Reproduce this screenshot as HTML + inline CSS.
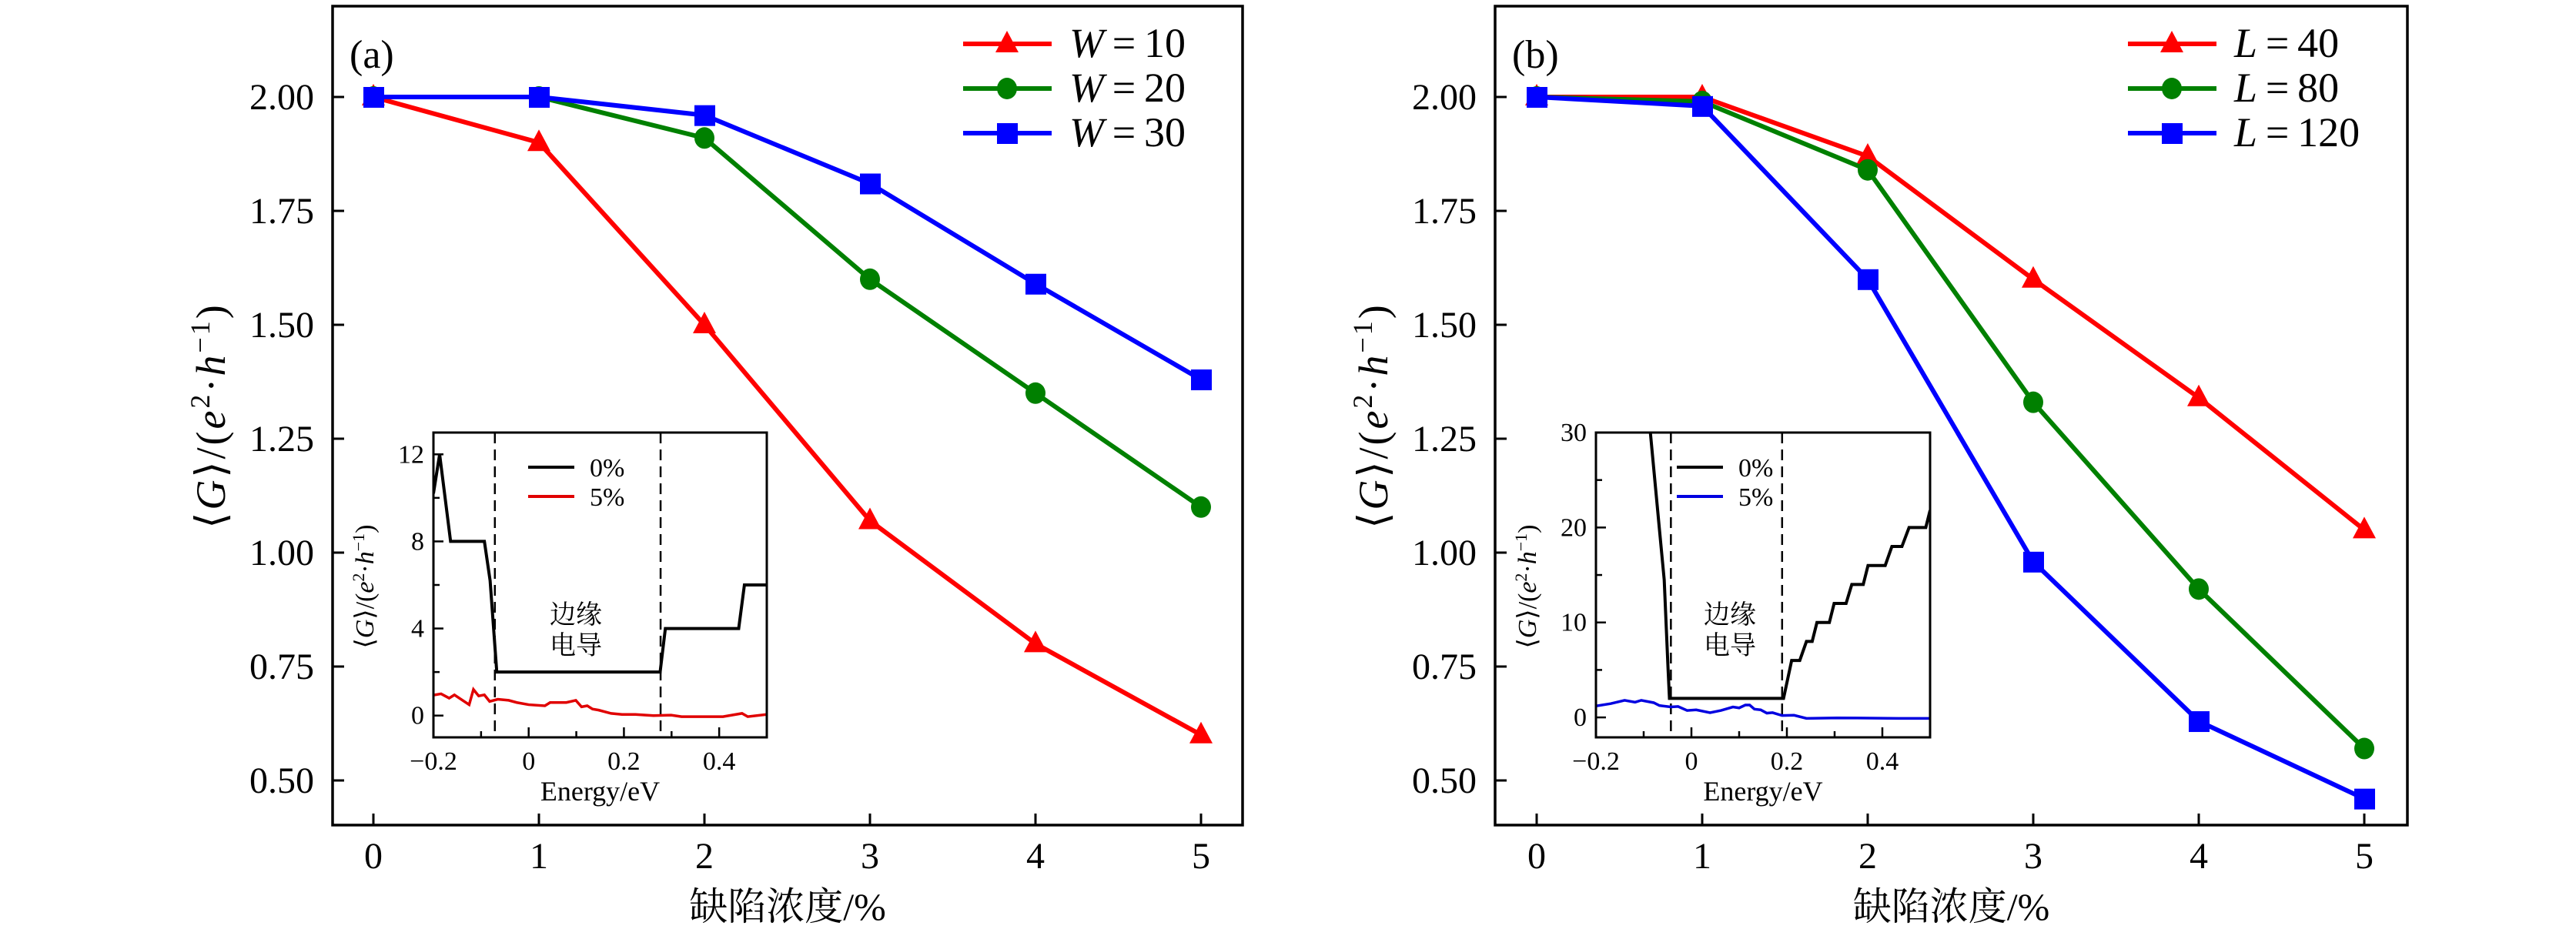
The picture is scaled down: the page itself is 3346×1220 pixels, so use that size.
<!DOCTYPE html>
<html><head><meta charset="utf-8">
<style>
html,body{margin:0;padding:0;background:#fff;}
svg{display:block;font-family:"Liberation Serif","Noto Serif CJK SC",serif;}
</style></head>
<body>
<svg id="fig" width="3346" height="1220" viewBox="0 0 3346 1220" xmlns="http://www.w3.org/2000/svg"></svg>
<script>
// ---------- data ----------
const defectLevels = [0, 1, 2, 3, 4, 5];
const xTickLabels = ["0","1","2","3","4","5"];
const yTickValues = [0.5, 0.75, 1.0, 1.25, 1.5, 1.75, 2.0];
const yTickLabels = ["0.50","0.75","1.00","1.25","1.50","1.75","2.00"];
const seriesW10 = [2.00, 1.90, 1.50, 1.07, 0.80, 0.60];
const seriesW20 = [2.00, 2.00, 1.91, 1.60, 1.35, 1.10];
const seriesW30 = [2.00, 2.00, 1.96, 1.81, 1.59, 1.38];
const seriesL40 = [2.00, 2.00, 1.87, 1.60, 1.34, 1.05];
const seriesL80 = [2.00, 1.99, 1.84, 1.33, 0.92, 0.57];
const seriesL120 = [2.00, 1.98, 1.60, 0.98, 0.63, 0.46];
// inset (a)
const insetAEnergy0 = [-0.2, -0.187, -0.164, -0.093, -0.081, -0.067, 0.276, 0.287, 0.441, 0.453, 0.5];
const insetAG0 = [10.2, 12, 8, 8, 6.2, 2, 2, 4, 4, 6, 6];
const insetAEnergy5 = [-0.2,-0.184,-0.167,-0.156,-0.125,-0.116,-0.105,-0.093,-0.082,-0.065,-0.042,-0.025,0,0.034,0.045,0.079,0.099,0.111,0.123,0.134,0.147,0.173,0.196,0.224,0.262,0.299,0.321,0.334,0.369,0.408,0.448,0.46,0.5];
const insetAG5 = [0.94,1.0,0.8,0.95,0.5,1.2,0.9,0.95,0.65,0.75,0.7,0.6,0.5,0.45,0.6,0.6,0.7,0.4,0.45,0.3,0.25,0.1,0.05,0.05,0.0,0.02,-0.05,-0.05,-0.05,-0.05,0.1,-0.05,0.05];
const insetAYTicks = [0,4,8,12];
const insetAYLabels = ["0","4","8","12"];
// inset (b)
const insetBEnergy0 = [-0.086,-0.067,-0.057,-0.049,-0.046,0.193,0.210,0.227,0.241,0.253,0.263,0.289,0.299,0.324,0.336,0.360,0.370,0.406,0.420,0.441,0.456,0.491,0.5];
const insetBG0 = [30,19.8,14.5,5.2,2,2,6,6,8,8,10,10,12,12,14,14,16,16,18,18,20,20,21.8];
const insetBEnergy5 = [-0.2,-0.169,-0.14,-0.118,-0.105,-0.079,-0.067,-0.043,-0.028,-0.009,0.01,0.039,0.062,0.087,0.1,0.113,0.122,0.132,0.145,0.158,0.17,0.19,0.215,0.241,0.305,0.433,0.5];
const insetBG5 = [1.2,1.45,1.8,1.6,1.8,1.55,1.25,1.1,1.15,0.73,0.8,0.5,0.73,1.1,1.0,1.3,1.3,0.87,0.8,0.45,0.5,0.2,0.23,-0.1,-0.05,-0.1,-0.1];
const insetBYTicks = [0,10,20,30];
const insetBYLabels = ["0","10","20","30"];
const insetXTicks = [-0.2, 0, 0.2, 0.4];
const insetXLabels = ["\u22120.2","0","0.2","0.4"];

const NS = "http://www.w3.org/2000/svg";
const fig = document.getElementById('fig');
function mk(tag, attrs, parent){
  const e = document.createElementNS(NS, tag);
  for (const k in attrs) e.setAttribute(k, attrs[k]);
  (parent||fig).appendChild(e);
  return e;
}
function lin(d0,d1,p0,p1){ return v => p0 + (v-d0)*(p1-p0)/(d1-d0); }

function drawMain(P){
  const g = mk('g',{});
  
  
  const X = lin(0,5,P.x0,P.x0+5*215);
  const Y = lin(2,0.5,126,1014);
  P.series.forEach(s=>{
    const sg = mk('g',{},g);
    
    
    const pts = defectLevels.map((d,i)=>X(d)+','+Y(s.vals[i])).join(' ');
    const pl = mk('polyline',{points:pts,fill:'none',stroke:s.color,'stroke-width':6,'stroke-linejoin':'round'},sg);
    
    
    defectLevels.forEach((d,i)=>{
      const m = marker(sg,s.shape,X(d),Y(s.vals[i]),s.color);
      
      
    });
  });
  const fr = mk('rect',{x:P.left,y:8,width:P.right-P.left,height:1064,fill:'none',stroke:'#000','stroke-width':3.5},g);
  
  
  defectLevels.forEach((d,i)=>{
    const t = mk('line',{x1:X(d),x2:X(d),y1:1072,y2:1057,stroke:'#000','stroke-width':3},g);
    
    
    const tl = mk('text',{x:X(d),y:1128,'font-size':48,'text-anchor':'middle'},g);
    tl.textContent = xTickLabels[i];
    
    
  });
  yTickValues.forEach((v,i)=>{
    const t = mk('line',{x1:P.left,x2:P.left+15,y1:Y(v),y2:Y(v),stroke:'#000','stroke-width':3},g);
    
    
    const tl = mk('text',{x:P.left-24,y:Y(v)+16,'font-size':48,'text-anchor':'end'},g);
    tl.textContent = yTickLabels[i];
    
    
  });
  const lab = mk('text',{x:P.left+22,y:88,'font-size':52},g);
  lab.textContent = P.label;
  
  
  const xt = mk('text',{x:(P.left+P.right)/2,y:1195,'font-size':50,'text-anchor':'middle','font-family':'"Liberation Serif","Noto Serif CJK SC",serif'},g);
  xt.textContent = '缺陷浓度/%';
  
  
  const yt = mk('text',{x:0,y:0,'font-size':54,'text-anchor':'middle','letter-spacing':3,transform:`translate(${P.left-140},540) rotate(-90)`},g);
  yt.innerHTML = '⟨<tspan font-style="italic">G</tspan>⟩/(<tspan font-style="italic">e</tspan><tspan font-size="36" dy="-20">2</tspan><tspan dy="20">·</tspan><tspan font-style="italic">h</tspan><tspan font-size="36" dy="-20">−1</tspan><tspan dy="20">)</tspan>';
  
  
  const lx = P.right-363;
  P.series.forEach((s,i)=>{
    const ly = 57 + i*58;
    const lg = mk('g',{},g);
    
    
    mk('line',{x1:lx,x2:lx+115,y1:ly,y2:ly,stroke:s.color,'stroke-width':6},lg);
    marker(lg,s.shape,lx+57,ly,s.color);
    const t = mk('text',{x:lx+138,y:ly+17,'font-size':54},lg);
    t.innerHTML = `<tspan font-style="italic">${P.leg}</tspan>\u2009=\u2009${s.n}`;
  });
  return g;
}
function marker(parent,shape,x,y,c){
  if(shape==='tri') return mk('polygon',{points:`${x},${y-17} ${x+15},${y+11} ${x-15},${y+11}`,fill:c},parent);
  if(shape==='circ') return mk('ellipse',{cx:x,cy:y,rx:13,ry:14,fill:c},parent);
  return mk('rect',{x:x-13,y:y-13,width:27,height:27,fill:c},parent);
}

function drawInset(I){
  const g = mk('g',{});
  
  
  const X = lin(-0.2,0.5,I.l,I.r);
  const Y = lin(I.ymin,I.ymax,958,562);
  mk('rect',{x:I.l,y:562,width:I.r-I.l,height:396,fill:'#fff'},g);
  const cp = mk('clipPath',{id:I.name+'-clip'},g);
  mk('rect',{x:I.l,y:562,width:I.r-I.l,height:396},cp);
  const cg = mk('g',{'clip-path':`url(#${I.name}-clip)`},g);
  I.dashes.forEach(e=>{
    const d = mk('line',{x1:X(e),x2:X(e),y1:562,y2:958,stroke:'#000','stroke-width':2.5,'stroke-dasharray':'14,8'},cg);
    
    
  });
  const p5 = mk('polyline',{points:I.e5.map((e,i)=>X(e)+','+Y(I.g5[i])).join(' '),fill:'none',stroke:I.c5,'stroke-width':3.5},cg);
  
  
  const p0 = mk('polyline',{points:I.e0.map((e,i)=>X(e)+','+Y(I.g0[i])).join(' '),fill:'none',stroke:'#000','stroke-width':4},cg);
  
  
  const fr = mk('rect',{x:I.l,y:562,width:I.r-I.l,height:396,fill:'none',stroke:'#000','stroke-width':3},g);
  
  
  insetXTicks.forEach((v,i)=>{
    mk('line',{x1:X(v),x2:X(v),y1:958,y2:945,stroke:'#000','stroke-width':2.5},g);
    const t = mk('text',{x:X(v),y:1000,'font-size':34,'text-anchor':'middle'},g);
    t.textContent = insetXLabels[i];
    
    
  });
  [-0.1,0.1,0.3].forEach(v=>mk('line',{x1:X(v),x2:X(v),y1:958,y2:950,stroke:'#000','stroke-width':2.5},g));
  I.yt.forEach((v,i)=>{
    mk('line',{x1:I.l,x2:I.l+13,y1:Y(v),y2:Y(v),stroke:'#000','stroke-width':2.5},g);
    const t = mk('text',{x:I.l-12,y:Y(v)+11,'font-size':34,'text-anchor':'end'},g);
    t.textContent = I.yl[i];
    
    
  });
  I.minor.forEach(v=>mk('line',{x1:I.l,x2:I.l+8,y1:Y(v),y2:Y(v),stroke:'#000','stroke-width':2.5},g));
  const xt = mk('text',{x:(I.l+I.r)/2,y:1040,'font-size':36,'text-anchor':'middle'},g);
  xt.textContent = 'Energy/eV';
  
  
  const yt = mk('text',{x:0,y:0,'font-size':34,'text-anchor':'middle',transform:`translate(${I.l-78},762) rotate(-90)`},g);
  yt.innerHTML = '⟨<tspan font-style="italic">G</tspan>⟩/(<tspan font-style="italic">e</tspan><tspan font-size="22" dy="-12">2</tspan><tspan dy="12">·</tspan><tspan font-style="italic">h</tspan><tspan font-size="22" dy="-12">−1</tspan><tspan dy="12">)</tspan>';
  
  
  const lg = mk('g',{},g);
  
  
  mk('line',{x1:I.legx,x2:I.legx+60,y1:607,y2:607,stroke:'#000','stroke-width':4},lg);
  mk('line',{x1:I.legx,x2:I.legx+60,y1:645,y2:645,stroke:I.c5,'stroke-width':4},lg);
  const t0 = mk('text',{x:I.legx+80,y:619,'font-size':34},lg); t0.textContent='0%';
  const t5 = mk('text',{x:I.legx+80,y:657,'font-size':34},lg); t5.textContent='5%';
  const a1 = mk('text',{x:I.labx,y:810,'font-size':34,'text-anchor':'middle','font-family':'"Noto Serif CJK SC","Noto Sans CJK SC",serif'},g);
  a1.textContent='边缘';
  
  
  const a2 = mk('text',{x:I.labx,y:850,'font-size':34,'text-anchor':'middle','font-family':'"Noto Serif CJK SC","Noto Sans CJK SC",serif'},g);
  a2.textContent='电导';
  
  
}

drawMain({name:'panel-a',label:'(a)',left:432,right:1614,x0:485,leg:'W',series:[
  {name:'series-w10',vals:seriesW10,color:'#ff0000',shape:'tri',n:'10'},
  {name:'series-w20',vals:seriesW20,color:'#008000',shape:'circ',n:'20'},
  {name:'series-w30',vals:seriesW30,color:'#0000ff',shape:'sq',n:'30'}]});
drawMain({name:'panel-b',label:'(b)',left:1942,right:3127,x0:1996,leg:'L',series:[
  {name:'series-l40',vals:seriesL40,color:'#ff0000',shape:'tri',n:'40'},
  {name:'series-l80',vals:seriesL80,color:'#008000',shape:'circ',n:'80'},
  {name:'series-l120',vals:seriesL120,color:'#0000ff',shape:'sq',n:'120'}]});
drawInset({name:'inset-a',l:563,r:996,ymin:-1,ymax:13,yt:insetAYTicks,yl:insetAYLabels,minor:[2,6,10],
  e0:insetAEnergy0,g0:insetAG0,e5:insetAEnergy5,g5:insetAG5,c5:'#e00000',dashes:[-0.071,0.277],legx:686,labx:748});
drawInset({name:'inset-b',l:2073,r:2507,ymin:-2.1,ymax:30,yt:insetBYTicks,yl:insetBYLabels,minor:[5,15,25],
  e0:insetBEnergy0,g0:insetBG0,e5:insetBEnergy5,g5:insetBG5,c5:'#0000e0',dashes:[-0.043,0.19],legx:2178,labx:2247});
</script>
</body></html>
